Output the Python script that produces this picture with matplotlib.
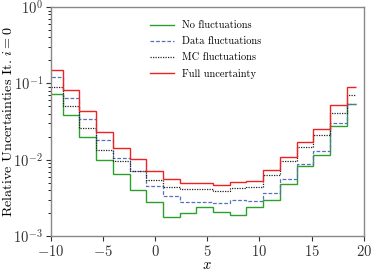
import matplotlib
matplotlib.use('Agg')
import matplotlib.pyplot as plt
import numpy as np

plt.rcParams['font.family'] = 'serif'
plt.rcParams['font.serif'] = ['cmr10']
plt.rcParams['mathtext.fontset'] = 'cm'
plt.rcParams['axes.formatter.use_mathtext'] = True

# bin edges
edges = [-10.45, -8.85, -7.25, -5.65, -4.05, -2.45, -0.85, 0.75, 2.35, 3.95,
         5.55, 7.15, 8.75, 10.35, 11.95, 13.55, 15.15, 16.75, 18.35, 19.2]

no_fluct = [0.073, 0.038, 0.020, 0.0098, 0.0065, 0.0040, 0.0028, 0.00177, 0.00198, 0.0024,
            0.00206, 0.00188, 0.00237, 0.0030, 0.0048, 0.0083, 0.0114, 0.0276, 0.0535]
data_fluct = [0.120, 0.064, 0.034, 0.0181, 0.0104, 0.0071, 0.0046, 0.00336, 0.0028, 0.0028,
              0.0027, 0.00296, 0.0029, 0.00365, 0.0056, 0.0087, 0.0131, 0.0305, 0.054]
mc_fluct = [0.090, 0.050, 0.0257, 0.0136, 0.0095, 0.0072, 0.0054, 0.0044, 0.0041, 0.0041,
            0.00388, 0.0043, 0.00438, 0.0064, 0.0095, 0.0148, 0.0208, 0.0412, 0.071]
full_unc = [0.149, 0.082, 0.043, 0.0228, 0.0141, 0.0101, 0.0071, 0.0056, 0.0050, 0.0050,
            0.00474, 0.00514, 0.0053, 0.0074, 0.011, 0.017, 0.025, 0.0515, 0.090]

fig = plt.figure(figsize=(3.74, 2.72), dpi=100)
ax = fig.add_axes([0.1355, 0.132, 0.8375, 0.842])

ax.stairs(no_fluct, edges, baseline=None, color='#2ca02c', lw=1.0, label='No fluctuations')
ax.stairs(data_fluct, edges, baseline=None, color='#5870b4', lw=0.9, ls=(0, (3, 1.5)), label='Data fluctuations')
ax.stairs(mc_fluct, edges, baseline=None, color='#222222', lw=0.9, ls=(0, (1, 1)), label='MC fluctuations')
ax.stairs(full_unc, edges, baseline=None, color='#ee2222', lw=1.0, label='Full uncertainty')

ax.set_yscale('log')
ax.set_xlim(-10, 20)
ax.set_ylim(1e-3, 1)
ax.set_xticks([-10, -5, 0, 5, 10, 15, 20])

ax.set_xlabel('$x$', fontsize=10.5, labelpad=0)
ax.set_ylabel('Relative Uncertainties It. $i = 0$', fontsize=10.2)
ax.yaxis.set_label_coords(-0.113, 0.5)
ax.tick_params(labelsize=10.5, colors='#333333', pad=2)
for s in ax.spines.values():
    s.set_color('#888888')
    s.set_linewidth(1.0)

ax.legend(loc='upper left', bbox_to_anchor=(0.3035, 0.958), borderaxespad=0, frameon=False,
          fontsize=7.5, handlelength=2.3, handletextpad=0.8, labelspacing=0.62)

fig.savefig('out.png', dpi=100)
